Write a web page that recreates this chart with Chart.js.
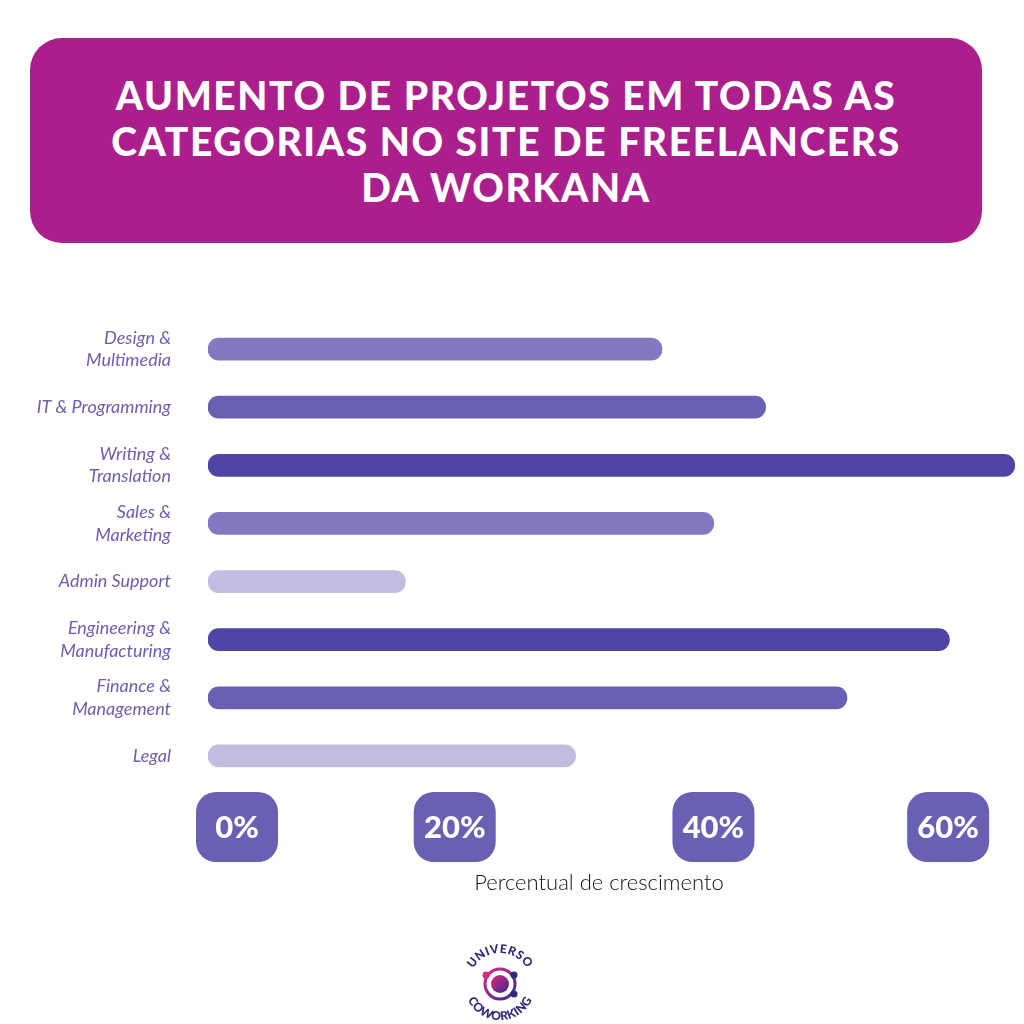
<!DOCTYPE html>
<html>
<head>
<meta charset="utf-8">
<script src="https://cdn.jsdelivr.net/npm/chart.js@4.4.0/dist/chart.umd.min.js"></script>
<style>
  html, body { margin:0; padding:0; background:#fff; }
  #wrap { position:relative; width:1024px; height:1024px; overflow:hidden; }
  #myChart { position:absolute; left:0; top:0; }
  #title {
    position:absolute; left:30px; top:38px; width:952px; height:205px;
    background:#ab1f8d; border-radius:32px;
    color:#fff; font-family:Lato, sans-serif; font-weight:900;
    font-size:39px; line-height:46px; letter-spacing:1.6px;
    text-align:center; display:flex; align-items:center; justify-content:center;
  }
  #logo { position:absolute; left:460px; top:944px; }
</style>
</head>
<body>
<div id="wrap">
  <canvas id="myChart" width="1024" height="1024"></canvas>
  <div id="title">AUMENTO DE PROJETOS EM TODAS AS<br>CATEGORIAS NO SITE DE FREELANCERS<br>DA WORKANA</div>
  <svg id="logo" width="80" height="80" viewBox="0 0 80 80">
    <defs>
      <path id="arcTop" d="M 9 40 A 31 31 0 0 1 71 40"/>
      <path id="arcBot" d="M 4 40 A 36 36 0 0 0 76 40"/>
      <linearGradient id="g" x1="0" y1="0" x2="1" y2="1">
        <stop offset="0" stop-color="#e0257f"/><stop offset="1" stop-color="#3b2a8f"/>
      </linearGradient>
    </defs>
    <circle cx="40" cy="40" r="15" fill="none" stroke="url(#g)" stroke-width="3"/>
    <circle cx="40" cy="40" r="9" fill="url(#g)"/>
    <circle cx="26" cy="31" r="3.5" fill="#e0257f"/>
    <circle cx="54" cy="31" r="3.5" fill="#2e2a7a"/>
    <circle cx="54" cy="50" r="3.5" fill="#2e2a7a"/>
    <text font-family="Lato" font-weight="900" font-size="12" fill="#2e2a7a" letter-spacing="0.5"><textPath href="#arcTop" startOffset="50%" text-anchor="middle">UNIVERSO</textPath></text>
    <text font-family="Lato" font-weight="900" font-size="12" fill="#2e2a7a" letter-spacing="0.3"><textPath href="#arcBot" startOffset="50%" text-anchor="middle" side="left">COWORKING</textPath></text>
  </svg>
</div>
<script>
// dados
var categorias = [
  ['Design &', 'Multimedia'],
  'IT & Programming',
  ['Writing &', 'Translation'],
  ['Sales &', 'Marketing'],
  'Admin Support',
  ['Engineering &', 'Manufacturing'],
  ['Finance &', 'Management'],
  'Legal'
];
var crescimento = [36.8, 45.2, 65.4, 41, 16, 60.1, 51.8, 29.8];
var corBarras = ['#8279c0', '#6a60b3', '#4e45a5', '#8279c0', '#c1bce0', '#4e45a5', '#6a60b3', '#c1bce0'];
var ticksX = [0, 20, 40, 60];

// badges do eixo x
var badgePlugin = {
  id: 'badges',
  afterDraw: function(chart) {
    var ctx = chart.ctx;
    var x = chart.scales.x;
    ctx.save();
    for (var i = 0; i < ticksX.length; i++) {
      var px = x.getPixelForValue(ticksX[i]);
      if (i == 0) px = px + 29;
      if (i == 2) px = px + 12;
      var w = 82, h = 70, r = 20, top = 792;
      ctx.fillStyle = '#6a60b3';
      ctx.beginPath();
      ctx.roundRect(px - w/2, top, w, h, r);
      ctx.fill();
      ctx.fillStyle = '#fff';
      ctx.font = '900 31px Lato';
      ctx.textAlign = 'center';
      ctx.textBaseline = 'middle';
      ctx.fillText(ticksX[i] + '%', px, top + h/2 + 1);
    }
    ctx.fillStyle = '#111';
    ctx.font = '300 22px Lato';
    ctx.fillText('Percentual de crescimento', 599, 883);
    ctx.restore();
  }
};

var myChart = document.getElementById('myChart').getContext('2d');
var chart = new Chart(myChart, {
  type: 'bar',
  data: {
    labels: categorias,
    datasets: [{
      label: 'Crescimento',
      data: crescimento,
      backgroundColor: corBarras,
      borderRadius: 11,
      borderSkipped: false,
      barThickness: 22
    }]
  },
  options: {
    indexAxis: 'y',
    responsive: false,
    animation: false,
    layout: { padding: { top: 320, bottom: 239, left: 0, right: 8 } },
    plugins: { legend: { display: false }, tooltip: { enabled: false } },
    scales: {
      x: {
        display: false,
        min: 0,
        max: 65.5
      },
      y: {
        grid: { display: false },
        border: { display: false },
        afterFit: function(scale) { scale.width = 208; },
        ticks: {
          padding: 29,
          color: '#6a60b3',
          font: { family: 'Lato', style: 'italic', size: 18, lineHeight: 1.25 }
        }
      }
    }
  },
  plugins: [badgePlugin]
});
</script>
</body>
</html>
